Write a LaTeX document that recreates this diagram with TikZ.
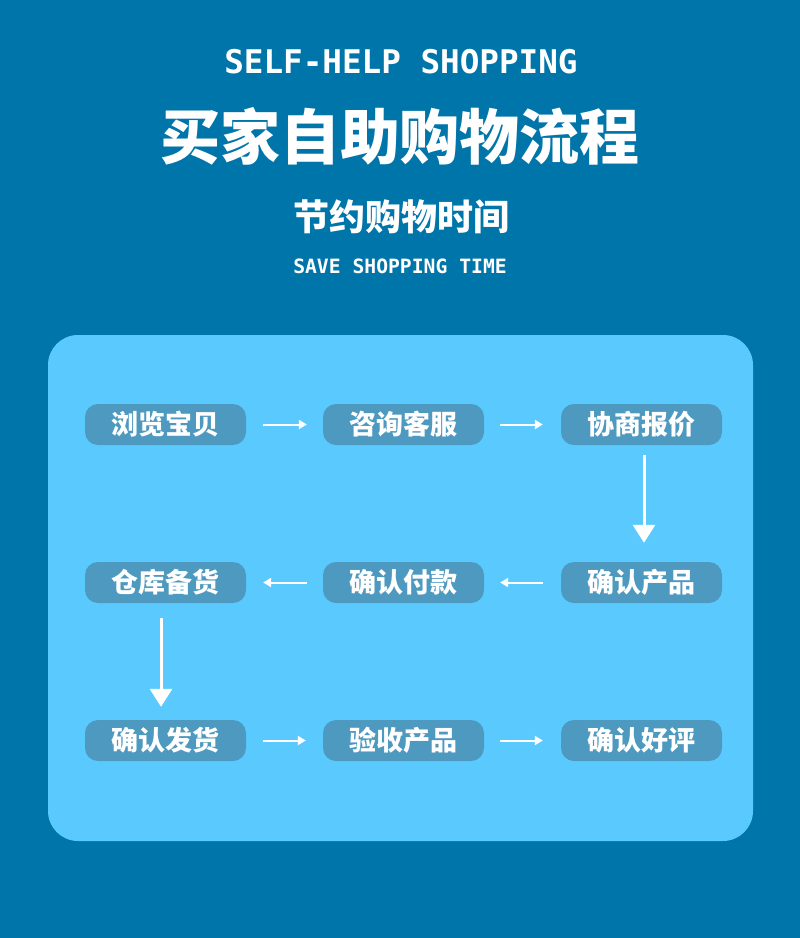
\documentclass[tikz,border=0pt]{standalone}
\usepackage{fontspec}
\newfontfamily\cjk{Noto Sans CJK SC}
\newfontfamily\monof{DejaVu Sans Mono}
\usetikzlibrary{arrows.meta}
\definecolor{bgblue}{RGB}{0,117,169}
\definecolor{panelblue}{RGB}{90,202,254}
\definecolor{boxblue}{RGB}{78,153,191}
\begin{document}
\begin{tikzpicture}[x=1pt,y=-1pt,
  stepbox/.style={fill=boxblue, rounded corners=13pt, minimum width=161pt, minimum height=41pt, inner sep=0pt, text=white, font=\cjk\bfseries\fontsize{27}{27}\selectfont},
  harrow/.style={draw=white, line width=2pt, -{Triangle[width=9pt,length=8pt]}},
  varrow/.style={draw=white, line width=3pt, -{Triangle[width=22pt,length=18pt]}},
  headtext/.style={text=white, inner sep=0pt}]
\fill[bgblue] (0,0) rectangle (800,938);
\useasboundingbox (0,0) rectangle (800,938);
\fill[panelblue, rounded corners=30pt] (48,335) rectangle (753,841);

\node[headtext, font=\monof\bfseries\fontsize{32.6}{33}\selectfont] (t1) at (401,62) {SELF-HELP SHOPPING};
\node[headtext, font=\cjk\bfseries\fontsize{60}{60}\selectfont] (t2) at (400,136) {买家自助购物流程};
\node[headtext, font=\cjk\bfseries\fontsize{36}{36}\selectfont] (t3) at (401,217) {节约购物时间};
\node[headtext, font=\monof\bfseries\fontsize{19.7}{20}\selectfont] (t4) at (400,266) {SAVE SHOPPING TIME};

\node[stepbox] (a1) at (165.5,424.5) {浏览宝贝};
\node[stepbox] (a2) at (403.5,424.5) {咨询客服};
\node[stepbox] (a3) at (641.5,424.5) {协商报价};
\node[stepbox] (b3) at (641.5,582.5) {确认产品};
\node[stepbox] (b2) at (403.5,582.5) {确认付款};
\node[stepbox] (b1) at (165.5,582.5) {仓库备货};
\node[stepbox] (c1) at (165.5,740.5) {确认发货};
\node[stepbox] (c2) at (403.5,740.5) {验收产品};
\node[stepbox] (c3) at (641.5,740.5) {确认好评};

\draw[harrow, shorten <=17pt, shorten >=16pt] (a1.east) -- (a2.west);
\draw[harrow, shorten <=16pt, shorten >=18pt] (a2.east) -- (a3.west);
\draw[varrow, shorten <=10pt, shorten >=19pt] ([xshift=2.5pt]a3.south) -- ([xshift=2.5pt]b3.north);
\draw[harrow, shorten <=18pt, shorten >=16pt] (b3.west) -- (b2.east);
\draw[harrow, shorten <=16pt, shorten >=17pt] (b2.west) -- (b1.east);
\draw[varrow, shorten <=15pt, shorten >=13pt] ([xshift=-4.5pt]b1.south) -- ([xshift=-4.5pt]c1.north);
\draw[harrow, shorten <=17pt, shorten >=17pt] (c1.east) -- (c2.west);
\draw[harrow, shorten <=16pt, shorten >=18pt] (c2.east) -- (c3.west);
\end{tikzpicture}
\end{document}
